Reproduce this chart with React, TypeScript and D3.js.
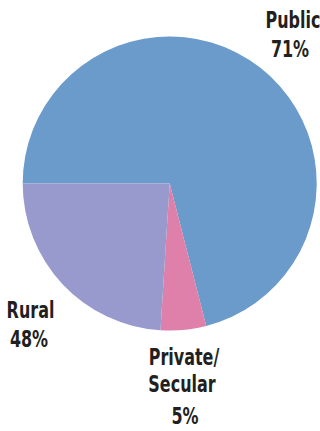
import React from "react";
import * as d3 from "d3";

const categories = ["Public", "Private/Secular", "Rural"];
const values = [71, 5, 24];
const labelLines = [["Public", "71%"], ["Private/", "Secular", "5%"], ["Rural", "48%"]];
const colors = ["#6a9bcb", "#de80a9", "#9899cd"];

const W = 320, H = 431;
const cx = 169.7, cy = 183.5, R = 147;

export default function App() {
  const pie = d3.pie<number>().sort(null).startAngle(-Math.PI / 2).endAngle(1.5 * Math.PI)(values);
  const arc = d3.arc<d3.PieArcDatum<number>>().innerRadius(0).outerRadius(R);
  const font = "'DejaVu Sans', sans-serif";
  const sx = 0.71;
  const labelPos = [
    { xs: [293, 290], ys: [28, 57] },
    { xs: [184, 182, 185], ys: [365, 392, 424] },
    { xs: [30.5, 29], ys: [318, 347] },
  ];
  return (
    <svg width={W} height={H} style={{ position: "absolute", left: 0, top: 0, background: "#fff" }}>
      <g transform={`translate(${cx},${cy})`}>
        {pie.map((d, i) => (
          <path key={categories[i]} d={arc(d) || ""} fill={colors[i]} />
        ))}
      </g>
      {labelLines.map((lines, i) =>
        lines.map((t, j) => (
          <text key={i + "-" + j} transform={`translate(${labelPos[i].xs[j]},${labelPos[i].ys[j]}) scale(${sx},1)`}
            textAnchor="middle" fontFamily={font} fontWeight="bold" fontSize={22.5} fill="#231f20">{t}</text>
        ))
      )}
    </svg>
  );
}
